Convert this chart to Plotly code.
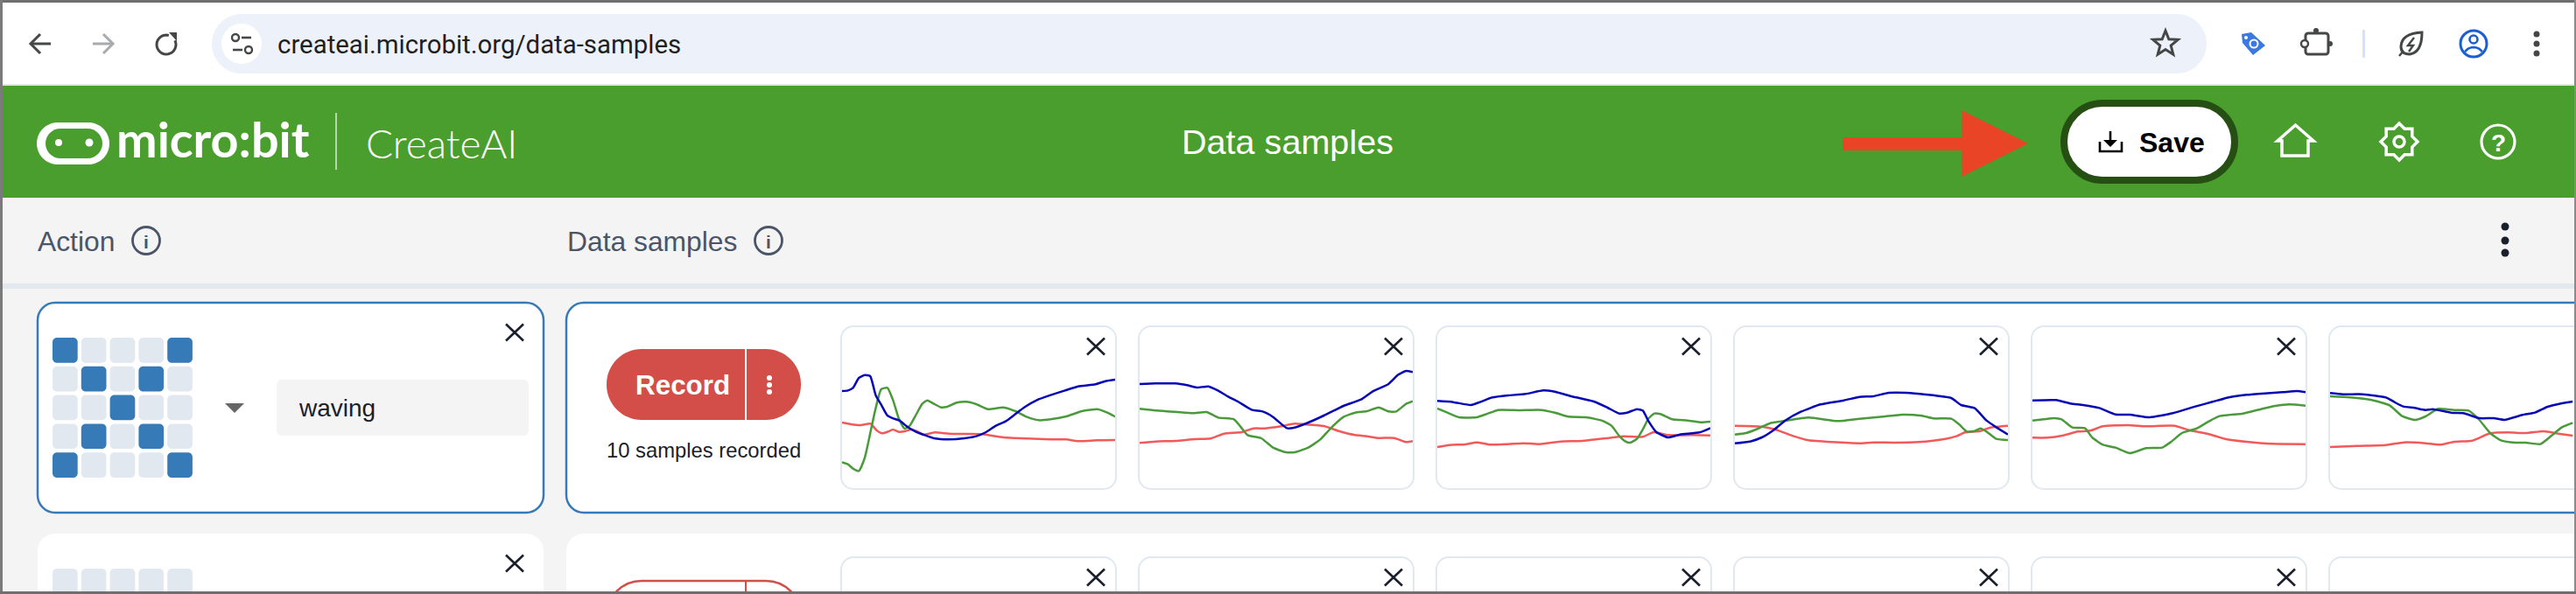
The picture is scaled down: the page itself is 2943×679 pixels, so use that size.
import math
import plotly.graph_objects as go

# accelerometer traces of the six visible recordings: blue/green/red
# t = time along the recording, v = reading (both in the sample's own raw units)
blue1_t = [0, 15, 28, 43, 58, 72, 86, 101, 116, 131, 148, 168, 188, 213, 235, 273, 313, 345, 368, 393, 418, 443, 468, 498, 533, 568, 603, 648, 673, 698]
blue1 = [57, 59, 68, 102, 112, 108, 43, 8, -27, -37, -45, -67, -82, -95, -105, -109, -105, -97, -84, -62, -47, -22, 3, 26, 43, 58, 73, 80, 91, 96]
green1_t = [0, 15, 28, 43, 58, 73, 86, 100, 116, 131, 145, 160, 173, 188, 205, 218, 235, 253, 268, 293, 318, 343, 373, 413, 443, 473, 503, 533, 573, 613, 653, 678, 698]
green1 = [-187, -194, -209, -217, -172, -82, -2, 63, 68, 23, -37, -72, -62, -27, 13, 25, 13, 1, 3, 17, 20, 12, -5, 1, -12, -32, -43, -40, -30, -12, -5, -17, -31]
red1_t = [0, 23, 48, 73, 88, 103, 118, 130, 145, 163, 178, 193, 208, 238, 273, 313, 358, 413, 473, 533, 573, 603, 653, 698]
red1 = [-51, -57, -60, -55, -77, -88, -82, -75, -83, -80, -74, -82, -92, -85, -89, -90, -91, -102, -106, -109, -109, -115, -112, -111]

blue2_t = [0, 41, 91, 121, 146, 176, 201, 226, 251, 286, 316, 341, 376, 391, 426, 471, 521, 566, 596, 636, 661, 681, 698]
blue2 = [81, 83, 83, 77, 69, 73, 58, 38, 21, -7, -14, -32, -70, -70, -54, -27, 6, 28, 56, 81, 113, 126, 122]
green2_t = [0, 41, 91, 136, 171, 201, 241, 259, 276, 311, 341, 371, 396, 431, 461, 491, 521, 551, 581, 611, 636, 656, 681, 698]
green2 = [-4, -10, -14, -19, -15, -34, -40, -67, -94, -105, -137, -152, -153, -137, -110, -67, -32, -17, -12, 1, -13, -13, 13, 22]
red2_t = [0, 41, 91, 141, 181, 216, 261, 291, 321, 361, 396, 421, 471, 511, 551, 581, 611, 651, 681, 698]
red2 = [-121, -116, -114, -108, -106, -89, -84, -71, -71, -64, -55, -57, -63, -81, -94, -98, -104, -104, -118, -115]

blue3_t = [0, 41, 86, 111, 141, 181, 226, 271, 296, 341, 401, 436, 466, 486, 511, 526, 541, 561, 591, 621, 671, 699]
blue3 = [23, 19, 9, 20, 35, 42, 47, 59, 56, 40, 21, 0, -20, -17, -5, -10, -47, -84, -102, -92, -85, -70]
green3_t = [0, 26, 56, 101, 126, 156, 211, 266, 301, 336, 381, 421, 446, 466, 481, 494, 511, 526, 541, 556, 571, 601, 641, 676, 699]
green3 = [-3, -17, -33, -33, -22, -8, -9, -8, -17, -31, -33, -44, -62, -97, -115, -120, -107, -75, -37, -20, -22, -40, -44, -50, -48]
red3_t = [0, 31, 71, 101, 136, 181, 221, 261, 316, 371, 431, 476, 526, 554, 591, 651, 699]
red3 = [-135, -128, -126, -119, -127, -125, -122, -125, -116, -114, -105, -98, -100, -84, -94, -94, -95]

blue4_t = [0, 39, 69, 99, 129, 169, 219, 279, 319, 354, 394, 439, 489, 554, 579, 614, 644, 669, 699]
blue4 = [-122, -116, -102, -77, -44, -14, 11, 25, 37, 39, 51, 51, 45, 33, 9, -2, -44, -67, -92]
green4_t = [0, 29, 59, 89, 129, 189, 264, 319, 379, 429, 479, 509, 554, 574, 594, 614, 629, 644, 669, 699]
green4 = [-92, -87, -72, -54, -45, -34, -46, -38, -31, -24, -28, -37, -38, -57, -82, -80, -71, -82, -107, -111]
red4_t = [0, 69, 104, 149, 189, 249, 319, 354, 409, 469, 539, 569, 589, 629, 654, 699]
red4 = [-62, -65, -75, -97, -112, -118, -122, -119, -120, -118, -107, -97, -85, -80, -68, -62]

blue5_t = [0, 66, 106, 141, 186, 231, 271, 326, 391, 456, 501, 546, 596, 646, 696, 736, 760]
blue5 = [25, 26, 14, 9, -1, -23, -24, -33, -19, 5, 20, 35, 44, 49, 53, 57, 53]
green5_t = [0, 31, 61, 81, 111, 146, 166, 196, 231, 271, 316, 361, 386, 416, 456, 491, 521, 586, 636, 676, 716, 760]
green5 = [-44, -40, -36, -40, -68, -70, -102, -127, -137, -156, -139, -137, -117, -87, -72, -47, -29, -20, -5, 6, 11, 7]
red5_t = [0, 41, 86, 126, 161, 196, 266, 316, 396, 436, 486, 536, 596, 666, 760]
red5 = [-103, -103, -95, -82, -79, -64, -60, -64, -62, -77, -89, -107, -117, -124, -125]

blue6_t = [0, 36, 91, 156, 181, 204, 236, 266, 286, 341, 371, 416, 456, 486, 536, 571, 606, 646, 676]
blue6 = [50, 46, 46, 35, 18, 4, -1, -8, -5, -18, -19, -36, -36, -42, -25, -17, 3, 15, 21]
green6_t = [0, 56, 116, 166, 201, 236, 266, 301, 346, 386, 416, 446, 476, 516, 546, 586, 616, 646, 676]
green6 = [39, 35, 26, 8, -29, -42, -30, -4, -8, -10, -42, -87, -112, -120, -120, -125, -97, -67, -52]
red6_t = [0, 76, 156, 206, 266, 306, 346, 396, 446, 496, 546, 596, 636, 676]
red6 = [-135, -131, -128, -119, -122, -127, -117, -113, -88, -85, -87, -81, -89, -96]

# LED icon of the "waving" action, 1 = lit
led_grid = [
    [1, 0, 0, 0, 1],
    [0, 1, 0, 1, 0],
    [0, 0, 1, 0, 0],
    [0, 1, 0, 1, 0],
    [1, 0, 0, 0, 1],
]

url_text = 'createai.microbit.org/data-samples'
page_title = 'Data samples'
action_name = 'waving'
samples_note = '10 samples recorded'

W, H = 2943, 679
GREEN = '#4a9e2e'
PAGE = '#f4f4f4'
INK = '#1a202c'
CARD_LINE = '#e2e8f0'
BLUE_UI = '#377ab8'
RED_UI = '#d34e48'
SANS = 'Liberation Sans, Arial, sans-serif'
K = 0.552  # bezier circle constant

shapes = []
notes = []


def rrect_path(x0, y0, x1, y1, r):
    c = r * (1 - K)
    return (f'M {x0 + r} {y0} L {x1 - r} {y0} C {x1 - c} {y0} {x1} {y0 + c} {x1} {y0 + r} '
            f'L {x1} {y1 - r} C {x1} {y1 - c} {x1 - c} {y1} {x1 - r} {y1} '
            f'L {x0 + r} {y1} C {x0 + c} {y1} {x0} {y1 - c} {x0} {y1 - r} '
            f'L {x0} {y0 + r} C {x0} {y0 + c} {x0 + c} {y0} {x0 + r} {y0} Z')


def poly_path(pts, close=True):
    s = 'M ' + ' L '.join(f'{x} {y}' for x, y in pts)
    return s + (' Z' if close else '')


def add_path(path, fill=None, line=None, width=0):
    shapes.append(dict(type='path', path=path, xref='x', yref='y', layer='below',
                       fillcolor=fill or 'rgba(0,0,0,0)',
                       line=dict(color=line or 'rgba(0,0,0,0)', width=width)))


def add_rrect(x0, y0, x1, y1, r, fill=None, line=None, width=0):
    add_path(rrect_path(x0, y0, x1, y1, r), fill, line, width)


def add_box(x0, y0, x1, y1, fill):
    shapes.append(dict(type='rect', xref='x', yref='y', x0=x0, y0=y0, x1=x1, y1=y1, layer='below',
                       fillcolor=fill, line=dict(width=0)))


def add_circle(cx, cy, r, fill=None, line=None, width=0):
    shapes.append(dict(type='circle', xref='x', yref='y', x0=cx - r, y0=cy - r, x1=cx + r, y1=cy + r,
                       layer='below', fillcolor=fill or 'rgba(0,0,0,0)',
                       line=dict(color=line or 'rgba(0,0,0,0)', width=width)))


def add_line(pts, color, width):
    add_path(poly_path(pts, close=False), None, color, width)


def arc_pts(cx, cy, r, a0, a1, n=24):
    return [(cx + r * math.cos(math.radians(a0 + (a1 - a0) * i / n)),
             cy + r * math.sin(math.radians(a0 + (a1 - a0) * i / n))) for i in range(n + 1)]


def star_pts(cx, cy, r_out, r_in, n, start=-90):
    pts = []
    for i in range(n * 2):
        r = r_out if i % 2 == 0 else r_in
        a = math.radians(start + i * 180 / n)
        pts.append((cx + r * math.cos(a), cy + r * math.sin(a)))
    return pts


def add_x(cx, cy, w=20, h=19):
    add_line([(cx - w / 2, cy - h / 2), (cx + w / 2, cy + h / 2)], INK, 2.6)
    add_line([(cx - w / 2, cy + h / 2), (cx + w / 2, cy - h / 2)], INK, 2.6)


def add_text(x, y, text, size, color, anchor='left', family=SANS, weight=400):
    notes.append(dict(x=x, y=y, xref='x', yref='y', text=text, showarrow=False,
                      xanchor=anchor, yanchor='middle', borderpad=0,
                      font=dict(family=family, size=size, color=color, weight=weight)))


# browser toolbar
add_box(0, 0, W, 96, '#ffffff')
add_box(0, 96, W, 98, '#dfe6de')
add_rrect(242, 16, 2521, 84, 34, fill='#edf2fa')
add_circle(276, 50, 23, fill='#ffffff')
add_circle(269, 43, 4, line='#444746', width=2.4)
add_line([(276, 43), (287, 43)], '#444746', 2.6)
add_line([(266, 57), (277, 57)], '#444746', 2.6)
add_circle(284, 57, 4, line='#444746', width=2.4)
add_text(316, 51, url_text, 29.4, '#1f1f1f', family='Roboto, sans-serif')

add_line([(58, 50), (35, 50)], '#444746', 3)
add_line([(46, 39), (35, 50), (46, 61)], '#444746', 3)
add_line([(106, 50), (129, 50)], '#a8abad', 3)
add_line([(118, 39), (129, 50), (118, 61)], '#a8abad', 3)
add_line(arc_pts(190, 51, 11, -25, 285), '#444746', 3)
add_path(poly_path([(193, 37), (202, 37), (202, 47)]), fill='#444746')

add_path(poly_path(star_pts(2474, 50, 15, 6.5, 5)), None, '#444746', 3)
add_path(poly_path([(2561, 39), (2572, 37), (2588, 52), (2574, 63), (2562, 49)]), fill='#3b78e0')
add_circle(2566, 43, 2, fill='#ffffff')
add_circle(2575, 50, 4.5, line='#ffffff', width=2)
add_rrect(2634, 38, 2660, 62, 3, line='#444746', width=3)
add_circle(2646, 35, 3, fill='#444746')
add_circle(2662, 50, 3, fill='#444746')
add_circle(2633, 50, 4, fill='#ffffff', line='#444746', width=2.4)
add_box(2699, 34, 2702, 66, '#d3e3fd')
add_path('M 2767 37 Q 2744 38 2743 53 Q 2743 62 2753 62 Q 2767 60 2767 37 Z', None, '#444746', 3)
add_line([(2758, 43), (2751, 52), (2757, 52), (2752, 59)], '#444746', 2.4)
add_line([(2746, 58), (2741, 64)], '#444746', 2.4)
add_circle(2826, 50, 15, line='#1a5fd0', width=3)
add_circle(2826, 45, 4.5, line='#1a5fd0', width=2.6)
add_line(arc_pts(2826, 66, 12, 215, 325, 10), '#1a5fd0', 2.6)
for y in (39, 50, 61):
    add_circle(2898, y, 3.5, fill='#444746')

# green app header
add_box(0, 98, W, 226, GREEN)
add_rrect(42, 140, 125, 188, 24, fill='#ffffff')
add_rrect(52, 147, 117, 181, 17, fill=GREEN)
add_circle(67, 163, 4, fill='#ffffff')
add_circle(102, 163, 4.5, fill='#ffffff')
add_text(243, 158, 'micro:bit', 55.7, '#ffffff', anchor='center', family='Lato, sans-serif', weight=700)
add_box(383, 129, 385, 194, '#b6d8aa')
add_text(504, 163, 'CreateAI', 46, '#ffffff', anchor='center', family='Lato, sans-serif', weight=300)
add_text(1471, 162, page_title, 39.6, '#ffffff', anchor='center')

add_path(poly_path([(2105, 157), (2241, 157), (2241, 126), (2317, 164), (2241, 202), (2241, 172), (2105, 172)]), fill='#e94425')
add_rrect(2358, 118, 2553, 206, 44, fill='#ffffff', line='#264f13', width=8)
add_line([(2411, 150), (2411, 163)], '#000000', 2.6)
add_path(poly_path([(2403, 160), (2419, 160), (2411, 168)]), fill='#000000')
add_line([(2399, 162), (2399, 173), (2424, 173), (2424, 162)], '#000000', 2.6)
add_text(2481, 163, 'Save', 32, '#000000', anchor='center', weight=700)

add_path(poly_path([(2622.5, 143), (2643, 161), (2637, 161), (2637, 178), (2607, 178), (2607, 161), (2602, 161)]), None, '#ffffff', 3.5)
add_path(poly_path(star_pts(2741, 162, 21, 16, 8)), None, '#ffffff', 3.5)
add_circle(2741, 162, 6, line='#ffffff', width=3.5)
add_circle(2854, 162, 19, line='#ffffff', width=3.2)
add_text(2854, 163, '?', 28, '#ffffff', anchor='center', weight=700)

# column header row
add_box(0, 226, W, 324, PAGE)
add_box(0, 324, W, 330, '#e3e7ee')
add_box(0, 330, W, H, PAGE)
add_text(42, 276, 'Action', 31.8, '#4a5568')
add_text(647, 276, page_title, 31.8, '#4a5568')
for cx in (167, 878):
    add_circle(cx, 275, 15.5, line='#4a5568', width=2.8)
    add_text(cx, 276, 'i', 21, '#4a5568', anchor='center', weight=700)
for y in (259, 275, 289):
    add_circle(2862, y, 4.5, fill=INK)

# first row: action card and samples card
add_rrect(43, 346, 621, 586, 20, fill='#ffffff', line=BLUE_UI, width=2.5)
add_rrect(647, 346, W + 40, 586, 20, fill='#ffffff', line=BLUE_UI, width=2.5)
add_x(588, 380, 20, 19)
for r, row in enumerate(led_grid):
    for c, lit in enumerate(row):
        x0 = 60 + c * 32.8
        y0 = 386 + r * 32.8
        add_rrect(x0, y0, x0 + 28.7, y0 + 28.7, 5, fill=BLUE_UI if lit else CARD_LINE)
add_path(poly_path([(257, 461), (279, 461), (268, 472)]), fill='#666666')
add_rrect(316, 434, 604, 498, 6, fill=PAGE)
add_text(340, 466, action_name, 28, INK)

add_rrect(693, 399, 915, 480, 40, fill=RED_UI)
add_box(851, 399, 853, 480, '#ffffff')
add_text(780, 440, 'Record', 31.4, '#ffffff', anchor='center', weight=700)
for y in (432, 440, 448):
    add_circle(879, y, 3, fill='#ffffff')
add_text(804, 514, samples_note, 23.8, INK, anchor='center')

# second row, cut off by the window
add_rrect(43, 610, 621, H + 60, 20, fill='#ffffff')
add_rrect(647, 610, W + 40, H + 60, 20, fill='#ffffff')
add_x(588, 644, 20, 19)
for c in range(5):
    x0 = 60 + c * 32.8
    add_rrect(x0, 650, x0 + 28.7, 690, 5, fill=CARD_LINE)
add_rrect(693, 664, 915, 745, 40, fill='#ffffff', line=RED_UI, width=2.5)
add_box(851, 664, 853, 700, RED_UI)

# sample cards
for i in range(6):
    left = 961 + 340 * i
    for top, bottom in ((373, 559), (637, H + 40)):
        add_rrect(left, top, left + 314, bottom, 14, fill='#ffffff', line=CARD_LINE, width=2)
        if i < 5:
            add_x(left + 291, top + 23, 20, 19)

# window frame
add_box(0, 0, W, 3, '#6f6f6f')
add_box(0, 0, 3, H, '#7a7a7a')
add_box(W - 2, 0, W, H, '#8a8a8a')
add_box(0, H - 3, W, H, '#6f6f6f')

fig = go.Figure()
fig.update_layout(
    width=W,
    height=H,
    margin=dict(l=0, r=0, t=0, b=0),
    paper_bgcolor=PAGE,
    plot_bgcolor='rgba(0,0,0,0)',
    showlegend=False,
    xaxis=dict(range=[0, W], domain=[0, 1], visible=False, fixedrange=True),
    yaxis=dict(range=[H, 0], domain=[0, 1], visible=False, fixedrange=True),
    shapes=shapes,
    annotations=notes,
)

samples = [
    (blue1_t, blue1, green1_t, green1, red1_t, red1, 698),
    (blue2_t, blue2, green2_t, green2, red2_t, red2, 698),
    (blue3_t, blue3, green3_t, green3, red3_t, red3, 699),
    (blue4_t, blue4, green4_t, green4, red4_t, red4, 699),
    (blue5_t, blue5, green5_t, green5, red5_t, red5, 760),
    (blue6_t, blue6, green6_t, green6, red6_t, red6, 678),
]
line_colors = ['#0606b4', '#4a9a3c', '#f25a5a']

for i, s in enumerate(samples):
    n = i + 2
    left = 962 + 340 * i
    right = min(left + 312, W - 3)
    fig.update_layout({
        f'xaxis{n}': dict(domain=[left / W, right / W], range=[0, s[6]], visible=False,
                          fixedrange=True, anchor=f'y{n}'),
        f'yaxis{n}': dict(domain=[1 - 559 / H, 1 - 373 / H], range=[-279, 279], visible=False,
                          fixedrange=True, anchor=f'x{n}'),
    })
    # red goes first, blue ends up on top
    for j in (2, 1, 0):
        fig.add_trace(go.Scatter(
            x=s[j * 2], y=s[j * 2 + 1], mode='lines', xaxis=f'x{n}', yaxis=f'y{n}',
            line=dict(color=line_colors[j], width=2.5, shape='spline', smoothing=0.5),
            hoverinfo='skip',
        ))

fig.write_html('out.html', config={'displayModeBar': False},
               post_script="document.body.style.margin='0';document.body.style.overflow='hidden';")
